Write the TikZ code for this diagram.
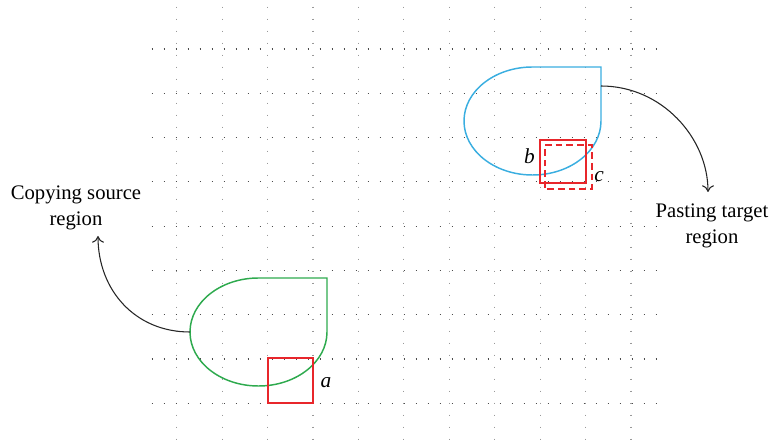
\documentclass[tikz,border=0pt]{standalone}
\usepackage{fontspec}
\setmainfont{Liberation Serif}
\usetikzlibrary{positioning, arrows.meta, calc}
\definecolor{SourceGreen}{HTML}{2EAA4E}
\definecolor{TargetBlue}{HTML}{3AAEE0}
\definecolor{PatchRed}{HTML}{E8262B}

\begin{document}
\begin{tikzpicture}[x=0.75pt, y=-0.75pt,
    gridv/.style={gray!80, line width=0.8pt, dash pattern=on 0.8pt off 8.2pt},
    gridh/.style={black!70, line width=0.8pt, dash pattern=on 0.8pt off 8.2pt},
    region/.style={line width=1.1pt},
    patch/.style={draw=PatchRed, line width=1.5pt},
    move/.style={black!85, line width=0.8pt, -{To[length=5pt, width=9pt]}},
    lbl/.style={font=\fontsize{15.5}{19}\selectfont, align=center, inner sep=0pt},
    tag/.style={font=\fontsize{16}{19}\selectfont\itshape, inner sep=0pt}
  ]
    \useasboundingbox (0,0) rectangle (772,445);
    % dotted grid
    \foreach \i in {0,...,10}
      \draw[gridv] ({176.7+45.43*\i},6.7) -- ({176.7+45.43*\i},441);
    \foreach \j in {0,...,8}
      \draw[gridh] (151.7,{49+44.29*\j}) -- (657,{49+44.29*\j});
    % copied and pasted regions
    \draw[region, SourceGreen] (327,332) arc[start angle=0, end angle=270, x radius=68.5, y radius=54] -- (327,278) -- cycle;
    \draw[region, TargetBlue] (601,121) arc[start angle=0, end angle=270, x radius=68.5, y radius=54] -- (601,67) -- cycle;
    \coordinate (srcedge) at (190,332);
    \coordinate (tgtedge) at (601,86);
    % patches
    \draw[patch] (267.6,358.3) -- (313,358.3) -- (313,403.3) -- (267.6,403.3) -- cycle;
    \draw[patch] (540,140) -- (585.6,140) -- (585.6,183.3) -- (540,183.3) -- cycle;
    \draw[patch, dash pattern=on 5pt off 3pt] (545,145.5) -- (591.5,145.5) -- (591.5,189.5) -- (545,189.5) -- cycle;
    \node[tag] (ta) at (326,383) {a};
    \node[tag] (tb) at (529.5,156.5) {b};
    \node[tag] (tc) at (599,177) {c};
    % labels and arrows
    \node[lbl] (srclbl) at (76,208) {Copying source\\region};
    \node[lbl] (tgtlbl) at (712,226) {Pasting target\\region};
    \coordinate (srctip) at (98,236);
    \coordinate (tgttip) at (708,192);
    \draw[move] (srcedge) .. controls (135,332) and (98,290) .. (srctip);
    \draw[move] (tgtedge) .. controls (662,86) and (708,138) .. (tgttip);
  \end{tikzpicture}
\end{document}
